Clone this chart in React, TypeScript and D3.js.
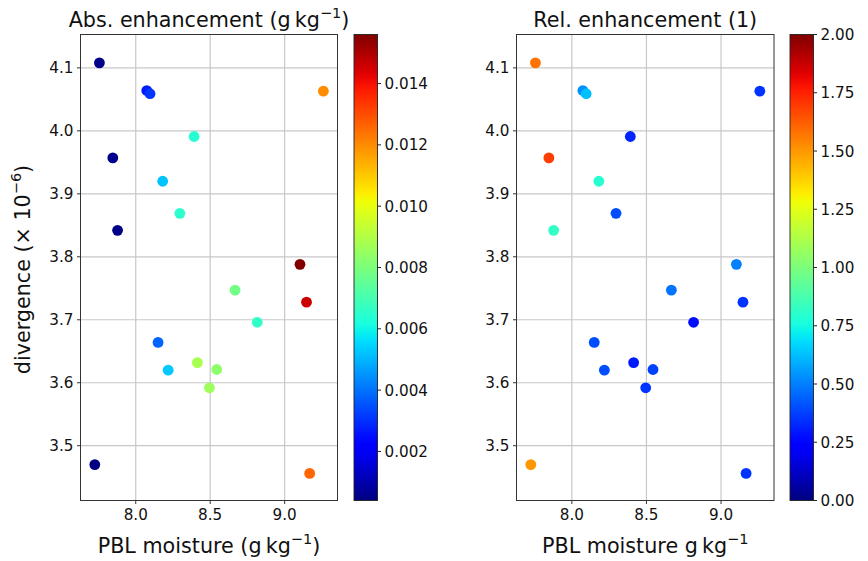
import React from "react";
import * as d3 from "d3";

// PBL moisture (g/kg) and divergence (x1e-6) for each case
const moisture = [
  7.756, 8.074, 8.096, 9.26, 8.392, 7.846, 8.181, 8.296, 7.878, 9.103,
  9.147, 8.667, 8.816, 8.15, 8.218, 8.414, 8.544, 8.495, 7.725, 9.168,
];
const divergence = [
  4.108, 4.064, 4.059, 4.063, 3.991, 3.957, 3.92, 3.869, 3.842, 3.788,
  3.728, 3.747, 3.696, 3.664, 3.62, 3.632, 3.621, 3.592, 3.47, 3.456,
];
// Absolute enhancement (g/kg)
const absEnh = [
  0.0005, 0.0027, 0.0031, 0.012, 0.0064, 0.0006, 0.0052, 0.0065, 0.0005, 0.0156,
  0.0146, 0.0078, 0.0066, 0.0038, 0.0053, 0.0088, 0.0083, 0.0086, 0.0004, 0.0126,
];
// Relative enhancement (1)
const relEnh = [
  1.58, 0.53, 0.625, 0.35, 0.32, 1.69, 0.79, 0.4, 0.82, 0.5,
  0.35, 0.475, 0.275, 0.4, 0.4, 0.3, 0.375, 0.35, 1.5, 0.35,
];

const xTicks = [8.0, 8.5, 9.0];
const yTicks = [3.5, 3.6, 3.7, 3.8, 3.9, 4.0, 4.1];
const absTicks = [0.002, 0.004, 0.006, 0.008, 0.01, 0.012, 0.014];
const relTicks = [0, 0.25, 0.5, 0.75, 1.0, 1.25, 1.5, 1.75, 2.0];

const FONT = "DejaVu Sans, Verdana, sans-serif";

// matplotlib "jet" colormap
const jetR = d3.scaleLinear().domain([0, 0.35, 0.66, 0.89, 1]).range([0, 0, 1, 1, 0.5]).clamp(true);
const jetG = d3.scaleLinear().domain([0, 0.125, 0.375, 0.64, 0.91, 1]).range([0, 0, 1, 1, 0, 0]).clamp(true);
const jetB = d3.scaleLinear().domain([0, 0.11, 0.34, 0.65, 1]).range([0.5, 1, 1, 0, 0]).clamp(true);
const jet = (t: number) =>
  d3.rgb(jetR(t) * 255, jetG(t) * 255, jetB(t) * 255).formatHex();

const xDomain: [number, number] = [7.629, 9.355];
const yDomain: [number, number] = [3.413, 4.153];

const TOP = 34.5;
const BOTTOM = 500.5;
const LABEL_FONT = 20.7;
const TICK_FONT = 15.2;

type PanelProps = {
  id: string;
  x0: number;
  x1: number;
  cbX: number;
  title: React.ReactNode;
  xlabel: React.ReactNode;
  values: number[];
  cDomain: [number, number];
  cTicks: number[];
  cFormat: (v: number) => string;
  ylabel?: boolean;
};

function Panel(p: PanelProps) {
  const x = d3.scaleLinear().domain(xDomain).range([p.x0, p.x1]);
  const y = d3.scaleLinear().domain(yDomain).range([BOTTOM, TOP]);
  const c = d3.scaleLinear().domain(p.cDomain).range([0, 1]).clamp(true);
  const cy = d3.scaleLinear().domain(p.cDomain).range([BOTTOM, TOP]);
  const cbW = 23.5;
  const stops = d3.range(0, 1.0001, 0.02);
  const gid = "grad-" + p.id;
  return (
    <g>
      <defs>
        <linearGradient id={gid} x1="0" y1="1" x2="0" y2="0">
          {stops.map((t, i) => (
            <stop key={i} offset={t} stopColor={jet(t)} />
          ))}
        </linearGradient>
      </defs>
      {/* grid */}
      {xTicks.map((t) => (
        <line key={"gx" + t} x1={x(t)} x2={x(t)} y1={TOP} y2={BOTTOM} stroke="#c8c8c8" strokeWidth={1.2} />
      ))}
      {yTicks.map((t) => (
        <line key={"gy" + t} x1={p.x0} x2={p.x1} y1={y(t)} y2={y(t)} stroke="#c8c8c8" strokeWidth={1.2} />
      ))}
      {/* points */}
      {moisture.map((m, i) => (
        <circle key={i} cx={x(m)} cy={y(divergence[i])} r={5.4} fill={jet(c(p.values[i]))} />
      ))}
      {/* frame */}
      <rect x={p.x0} y={TOP} width={p.x1 - p.x0} height={BOTTOM - TOP} fill="none" stroke="#333" strokeWidth={1} />
      {/* x ticks */}
      {xTicks.map((t) => (
        <g key={"tx" + t}>
          <line x1={x(t)} x2={x(t)} y1={BOTTOM} y2={BOTTOM + 3.5} stroke="#333" strokeWidth={1} />
          <text x={x(t)} y={BOTTOM + 19.5} textAnchor="middle" fontSize={TICK_FONT} fontFamily={FONT} fill="#111">
            {t.toFixed(1)}
          </text>
        </g>
      ))}
      {/* y ticks */}
      {yTicks.map((t) => (
        <g key={"ty" + t}>
          <line x1={p.x0 - 3.5} x2={p.x0} y1={y(t)} y2={y(t)} stroke="#333" strokeWidth={1} />
          <text x={p.x0 - 7} y={y(t) + 5.5} textAnchor="end" fontSize={TICK_FONT} fontFamily={FONT} fill="#111">
            {t.toFixed(1)}
          </text>
        </g>
      ))}
      {/* colorbar */}
      <rect x={p.cbX} y={TOP} width={cbW} height={BOTTOM - TOP} fill={`url(#${gid})`} />
      <rect x={p.cbX} y={TOP} width={cbW} height={BOTTOM - TOP} fill="none" stroke="#222" strokeWidth={0.9} />
      {p.cTicks.map((t) => (
        <g key={"ct" + t}>
          <line x1={p.cbX + cbW} x2={p.cbX + cbW + 3.5} y1={cy(t)} y2={cy(t)} stroke="#222" strokeWidth={1} />
          <text x={p.cbX + cbW + 7} y={cy(t) + 5.5} fontSize={TICK_FONT} fontFamily={FONT} fill="#111">
            {p.cFormat(t)}
          </text>
        </g>
      ))}
      {/* title */}
      <text x={(p.x0 + p.x1) / 2} y={27} textAnchor="middle" fontSize={LABEL_FONT} fontFamily={FONT} fill="#111">
        {p.title}
      </text>
      {/* x label */}
      <text x={(p.x0 + p.x1) / 2} y={553} textAnchor="middle" fontSize={LABEL_FONT} fontFamily={FONT} fill="#111">
        {p.xlabel}
      </text>
      {p.ylabel && (
        <text
          transform={`translate(30,${(TOP + BOTTOM) / 2 + 2}) rotate(-90)`}
          textAnchor="middle"
          fontSize={LABEL_FONT}
          fontFamily={FONT}
          fill="#111"
        >
          divergence (× 10
          <tspan fontSize={14.5} dy={-9.5}>−6</tspan>
          <tspan dy={9.5}>)</tspan>
        </text>
      )}
    </g>
  );
}

export default function App() {
  const unitTitle = (
    <>
      Abs. enhancement (g{"\u2009"}kg
      <tspan fontSize={14.5} dy={-9.5}>−1</tspan>
      <tspan dy={9.5}>)</tspan>
    </>
  );
  const xl1 = (
    <>
      PBL moisture (g{"\u2009"}kg
      <tspan fontSize={14.5} dy={-9.5}>−1</tspan>
      <tspan dy={9.5}>)</tspan>
    </>
  );
  const xl2 = (
    <>
      PBL moisture g{"\u2009"}kg
      <tspan fontSize={14.5} dy={-9.5}>−1</tspan>
    </>
  );
  return (
    <svg
      width={868}
      height={561}
      style={{ position: "absolute", left: 0, top: 0, background: "#fff" }}
    >
      <rect width={868} height={561} fill="#fff" />
      <Panel
        id="abs"
        x0={80.5}
        x1={337.5}
        cbX={354}
        title={unitTitle}
        xlabel={xl1}
        values={absEnh}
        cDomain={[0.0004, 0.0156]}
        cTicks={absTicks}
        cFormat={(v) => v.toFixed(3)}
        ylabel
      />
      <Panel
        id="rel"
        x0={516.5}
        x1={774}
        cbX={790}
        title="Rel. enhancement (1)"
        xlabel={xl2}
        values={relEnh}
        cDomain={[0, 2]}
        cTicks={relTicks}
        cFormat={(v) => v.toFixed(2)}
      />
    </svg>
  );
}
